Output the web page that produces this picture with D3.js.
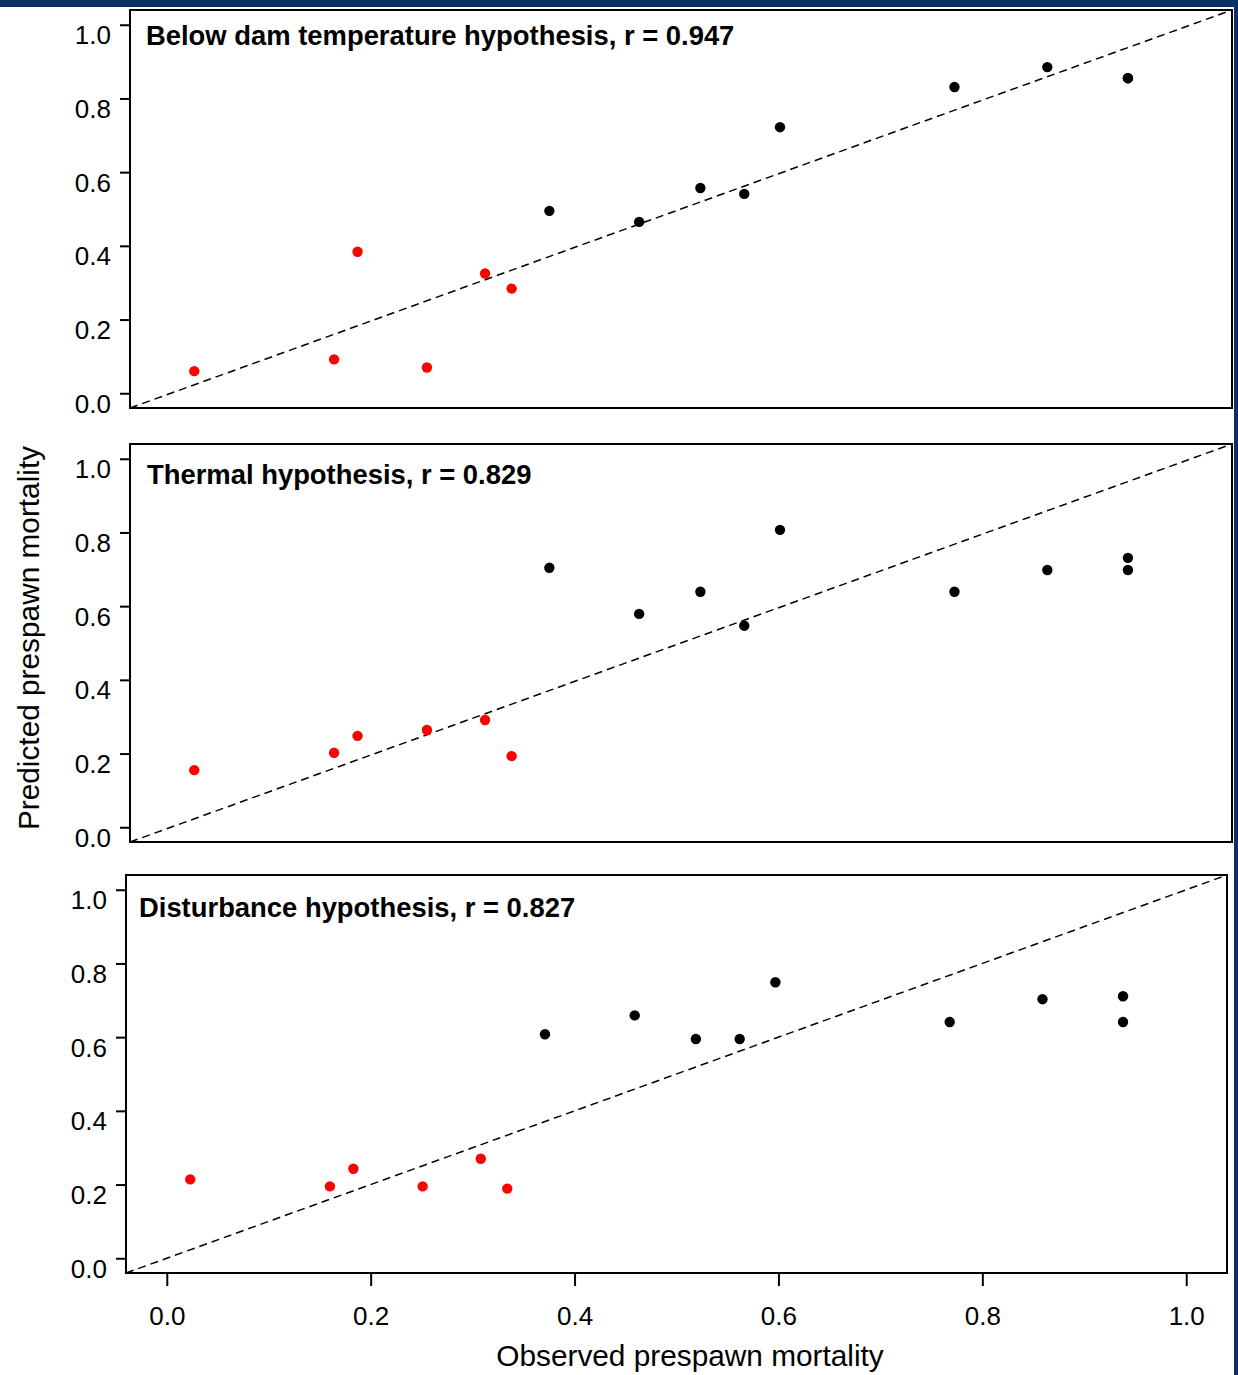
<!doctype html>
<html lang="en">
<head>
    <meta charset="UTF-8">
    <title>Observed vs predicted prespawn mortality</title>
    <script src="https://d3js.org/d3.v7.min.js" charset="utf-8"></script>
    <style>
        body { margin: 0; background: #fff; }
        text { font-family: "Liberation Sans", Arial, sans-serif; fill: #000; }
    </style>
</head>
<body>
    <script>
        // observed mortality (shared by all three panels)
        var observed = [0.023, 0.160, 0.183, 0.251, 0.308, 0.334, 0.371, 0.459, 0.519, 0.562, 0.597, 0.768, 0.859, 0.938, 0.938];
        // predicted mortality, one list per hypothesis
        var belowDam = [0.060, 0.092, 0.384, 0.070, 0.325, 0.284, 0.495, 0.465, 0.557, 0.541, 0.722, 0.831, 0.885, 0.855, 0.855];
        var thermal = [0.155, 0.202, 0.248, 0.264, 0.291, 0.193, 0.704, 0.579, 0.639, 0.547, 0.807, 0.639, 0.698, 0.731, 0.698];
        var disturbance = [0.214, 0.195, 0.243, 0.195, 0.270, 0.189, 0.608, 0.659, 0.595, 0.595, 0.749, 0.641, 0.703, 0.711, 0.641];
        // 1 = red points, 2 = black points
        var group = [1, 1, 1, 1, 1, 1, 2, 2, 2, 2, 2, 2, 2, 2, 2];
        var titles = ["Below dam temperature hypothesis, r = 0.947", "Thermal hypothesis, r = 0.829", "Disturbance hypothesis, r = 0.827"];
        var ticks = [0, 0.2, 0.4, 0.6, 0.8, 1.0];

        var width = 1238,
            height = 1375;

        // each panel was pasted separately, so boxes are not quite aligned
        var panels = [
            {pred: belowDam,    left: 130, right: 1232, top: 10,  bottom: 408,  tx: 146, ty: 45},
            {pred: thermal,     left: 130, right: 1232, top: 444, bottom: 842,  tx: 147, ty: 484},
            {pred: disturbance, left: 126, right: 1227, top: 875, bottom: 1273, tx: 139, ty: 917}
        ];

        var color = d3.scaleOrdinal().domain([1, 2]).range(["#ff0000", "#000000"]);

        var svg = d3.select("body").append("svg")
                    .attr("width", width)
                    .attr("height", height);

        // navy frame pieces
        svg.append("rect").attr("x", 0).attr("y", 0).attr("width", width).attr("height", 7).attr("fill", "#0b3064");
        svg.append("rect").attr("x", 1234).attr("y", 0).attr("width", 4).attr("height", height).attr("fill", "#0b3064");

        panels.forEach(function(p, k){
            var x = d3.scaleLinear().domain([-0.04, 1.04]).range([p.left, p.right]),
                y = d3.scaleLinear().domain([-0.04, 1.04]).range([p.bottom, p.top]);

            var g = svg.append("g");

            // y axis
            var yAxis = g.append("g")
                .attr("transform", "translate(" + p.left + ",0)")
                .call(d3.axisLeft(y).tickValues(ticks).tickSize(10).tickSizeOuter(0).tickFormat(d3.format(".1f")));
            yAxis.select(".domain").remove();
            yAxis.selectAll("line").attr("stroke", "#000").attr("stroke-width", 2);
            yAxis.selectAll("text")
                .attr("x", -19)
                .attr("dy", null)
                .attr("y", 19)
                .attr("font-size", 26)
                .style("font-family", "'Liberation Sans', Arial, sans-serif");

            // x axis only on the bottom panel
            if (k == panels.length - 1) {
                var xAxis = g.append("g")
                    .attr("transform", "translate(0," + p.bottom + ")")
                    .call(d3.axisBottom(x).tickValues(ticks).tickSize(13).tickSizeOuter(0).tickFormat(d3.format(".1f")));
                xAxis.select(".domain").remove();
                xAxis.selectAll("line").attr("stroke", "#000").attr("stroke-width", 2);
                xAxis.selectAll("text")
                    .attr("dy", null)
                    .attr("y", 52)
                    .attr("font-size", 26)
                    .style("font-family", "'Liberation Sans', Arial, sans-serif");
            }

            // 1:1 line
            g.append("line")
                .attr("x1", x(-0.04))
                .attr("y1", y(-0.04))
                .attr("x2", x(1.04))
                .attr("y2", y(1.04))
                .attr("stroke", "#000")
                .attr("stroke-width", 1.5)
                .attr("stroke-dasharray", "8,5");

            g.selectAll("circle")
                .data(p.pred)
                .enter()
                .append("circle")
                .attr("cx", function(d, i){ return x(observed[i]); })
                .attr("cy", function(d){ return y(d); })
                .attr("r", 5.2)
                .attr("fill", function(d, i){ return color(group[i]); });

            g.append("rect")
                .attr("x", p.left)
                .attr("y", p.top)
                .attr("width", p.right - p.left)
                .attr("height", p.bottom - p.top)
                .attr("fill", "none")
                .attr("stroke", "#000")
                .attr("stroke-width", 2);

            g.append("text")
                .attr("x", p.tx)
                .attr("y", p.ty)
                .attr("font-size", 27.4)
                .attr("font-weight", "bold")
                .text(titles[k]);
        });

        svg.append("text")
            .attr("x", 690)
            .attr("y", 1366)
            .attr("font-size", 29.8)
            .style("text-anchor", "middle")
            .text("Observed prespawn mortality");

        svg.append("text")
            .attr("transform", "translate(39,638) rotate(-90)")
            .attr("font-size", 29.8)
            .style("text-anchor", "middle")
            .text("Predicted prespawn mortality");
    </script>
</body>
</html>
